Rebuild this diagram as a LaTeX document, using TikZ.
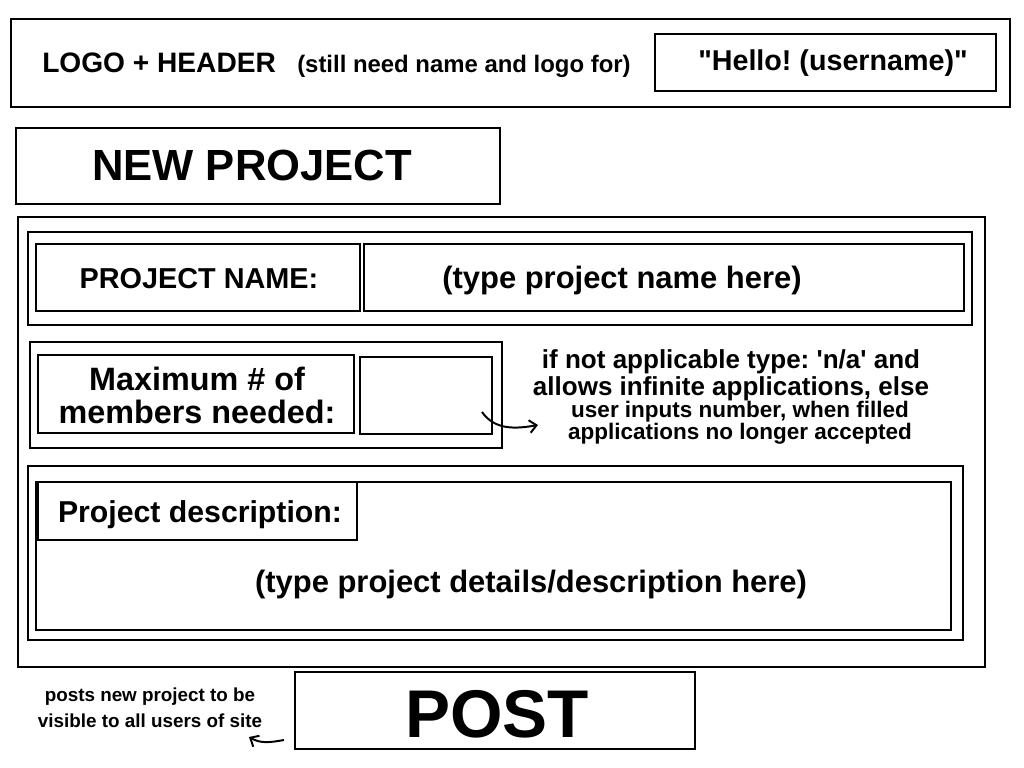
\documentclass[tikz,border=0pt]{standalone}
\usepackage{fontspec}
\setmainfont{Liberation Sans}[Ligatures=TeXOff]
\usetikzlibrary{arrows.meta}
\frenchspacing

\begin{document}
\begin{tikzpicture}[x=0.025cm,y=-0.025cm,
  frame/.style={line width=1.8pt},
  lbl/.style={font=\bfseries\fontsize{#1}{#1}\selectfont,inner sep=0pt},
  >={Straight Barb[length=5pt,width=9pt]}]
\useasboundingbox (0,0) rectangle (1024,768);
% header
\draw[frame] (11,19) rectangle (1010,107);
\draw[frame] (655,34) rectangle (996,91);
\node at (42,73)[lbl=20,anchor=base west] (logo) {LOGO + HEADER};
\node at (297,73)[lbl=17,anchor=base west] (logonote) {(still need name and logo for)};
\node at (833,71)[lbl=20.4,anchor=base] (hello) {"Hello! (username)"};
% title
\draw[frame] (16,128) rectangle (500,204);
\node at (252,180)[lbl=31,anchor=base] (title) {NEW PROJECT};
% form
\draw[frame] (18,217) rectangle (985,667);
\draw[frame] (28,232) rectangle (972,325);
\draw[frame] (36,244) rectangle (360,311);
\draw[frame] (364,244) rectangle (964,311);
\node at (199,288)[lbl=20.5,anchor=base] (pname) {PROJECT NAME:};
\node at (622,288)[lbl=22,anchor=base] (pnamefield) {(type project name here)};
\draw[frame] (30,342) rectangle (502,448);
\draw[frame] (38,355) rectangle (354,433);
\draw[frame] (360,357) rectangle (492,434);
\node at (197,423)[lbl=23,anchor=base,align=center] (maxnum) {Maximum \# of\\[-0.2pt]members needed:};
\node at (731,395)[font=\bfseries\fontsize{18.5}{19.2}\selectfont,inner sep=0pt,anchor=base,align=center] (notea) {if not applicable type: 'n/a' and\\allows infinite applications, else};
\node at (740,439)[font=\bfseries\fontsize{16}{15}\selectfont,inner sep=0pt,anchor=base,align=center] (noteb) {user inputs number, when filled\\applications no longer accepted};
\coordinate (m1) at (482,412);
\coordinate (m2) at (538,425);
\draw[->,line width=1.4pt] (m1) to[out=-55,in=190] (m2);
\draw[frame] (28,466) rectangle (963,640);
\draw[frame] (36,482) rectangle (951,630);
\draw[frame] (38,482) rectangle (357,540);
\node at (200,522)[lbl=21.5,anchor=base] (pdesc) {Project description:};
\node at (531,592)[lbl=22,anchor=base] (pdescfield) {(type project details/description here)};
% post
\draw[frame] (295,672) rectangle (695,749);
\node at (497,737)[lbl=48,anchor=base] (post) {POST};
\node at (150,727)[font=\bfseries\fontsize{13.4}{17.8}\selectfont,inner sep=0pt,anchor=base,align=center] (postnote) {posts new project to be\\visible to all users of site};
\coordinate (p1) at (284,740);
\coordinate (p2) at (249,737);
\draw[->,line width=1.4pt] (p1) to[out=190,in=-30] (p2);
\end{tikzpicture}
\end{document}
